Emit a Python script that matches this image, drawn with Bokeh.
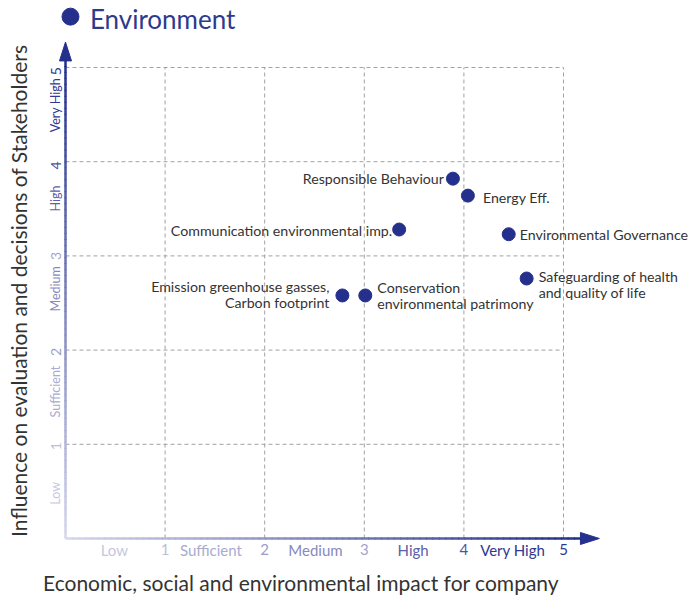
import numpy as np
from bokeh.plotting import figure
from bokeh.models import ColumnDataSource, Range1d
from bokeh.core.properties import value
from bokeh.embed import file_html
from bokeh.resources import INLINE

# ---- data -----------------------------------------------------------------
topics = [
    "Responsible Behaviour",
    "Energy Eff.",
    "Communication environmental imp.",
    "Environmental Governance",
    "Safeguarding of health\nand quality of life",
    "Emission greenhouse gasses,\nCarbon footprint",
    "Conservation\nenvironmental patrimony",
]
impact = [3.89, 4.04, 3.35, 4.45, 4.63, 2.78, 3.01]      # x: impact for company
influence = [3.82, 3.64, 3.28, 3.23, 2.76, 2.58, 2.58]   # y: influence on stakeholders

scale_numbers = ["1", "2", "3", "4", "5"]
scale_words = ["Low", "Sufficient", "Medium", "High", "Very High"]

title_text = "Environment"
x_title = "Economic, social and environmental impact for company"
y_title = "Influence on evaluation and decisions of Stakeholders"

# ---- label placement (screen pixels) ---------------------------------------
label_align = ["right", "left", "right", "left", "left", "right", "left"]
label_dx = [-9, 15, -7, 11, 12, -13, 12]
label_dy = [0, 2, 1, 0, 6, -1, 0]

FONT = value("Lato")
NAVY = "#24308c"
TEXT = "#333333"

# scale: data 0..5 spans the matrix; extra room for titles and arrows
X_LO, X_HI = -0.6526, 6.3153
Y_LO, Y_HI = -0.6582, 5.7113
X_TIP, Y_TIP = 5.36, 5.27

p = figure(width=694, height=600, output_backend="svg", toolbar_location=None,
           x_range=Range1d(X_LO, X_HI), y_range=Range1d(Y_LO, Y_HI),
           min_border=0, min_border_left=0, min_border_right=0,
           min_border_top=0, min_border_bottom=0)
p.axis.visible = False
p.grid.visible = False
p.outline_line_color = None
p.background_fill_color = "white"
p.border_fill_color = "white"

# dashed grid of the 5x5 matrix
levels = np.arange(1, 6)
p.segment(x0=levels, y0=0, x1=levels, y1=5, line_color="#a2a2a2",
          line_width=1, line_dash="4 3")
p.segment(x0=0, y0=levels, x1=5, y1=levels, line_color="#a2a2a2",
          line_width=1, line_dash="4 3")

# axes with a light-to-dark gradient
light = np.array([214, 214, 236])
dark = np.array([36, 48, 140])
n = 80
def grad(t):
    c = (light + (dark - light) * t).astype(int)
    return "#%02x%02x%02x" % tuple(c)

head_x = 0.19
head_y = 0.20
tx = np.linspace(0, X_TIP - head_x, n + 1)
p.segment(x0=tx[:-1], y0=0, x1=tx[1:] + 0.01, y1=0,
          line_color=[grad(t) for t in np.linspace(0, 1, n)], line_width=2.5)
ty = np.linspace(0, Y_TIP - head_y, n + 1)
p.segment(x0=0, y0=ty[:-1], x1=0, y1=ty[1:] + 0.01,
          line_color=[grad(t) for t in np.linspace(0, 1, n)], line_width=2.5)

hw_y = 6 / 94.2
hw_x = 6 / 99.6
p.patch([X_TIP - head_x, X_TIP, X_TIP - head_x], [-hw_y, 0, hw_y],
        fill_color=grad(1), line_color=grad(1))
p.patch([-hw_x, 0, hw_x], [Y_TIP - head_y, Y_TIP, Y_TIP - head_y],
        fill_color=grad(1), line_color=grad(1))

# tick labels along both axes
word_cols = ["#c6c7df", "#a9abd1", "#8789be", "#5c60a7", "#303892"]
num_cols = ["#bcbdda", "#9b9dca", "#a3a5cd", "#4e53a0", "#303892"]

x_word_pos = [0.49, 1.46, 2.51, 3.49, 4.49]
x_num_pos = [1, 2, 3, 4, 5]
xw = ColumnDataSource(dict(x=x_word_pos, y=[-0.12] * 5, t=scale_words, c=word_cols))
xn = ColumnDataSource(dict(x=x_num_pos, y=[-0.12] * 5, t=scale_numbers, c=num_cols))
for src in (xw, xn):
    p.text(x="x", y="y", text="t", text_color="c", source=src, text_font=FONT,
           text_font_size="15px", text_align="center", text_baseline="middle")

y_word_pos = [0.48, 1.56, 2.65, 3.61, 4.6]
y_num_pos = [0.98, 1.98, 3.0, 3.96, 4.96]
yw = ColumnDataSource(dict(x=[-0.1] * 5, y=y_word_pos, t=scale_words, c=word_cols))
yn = ColumnDataSource(dict(x=[-0.1] * 5, y=y_num_pos, t=scale_numbers, c=num_cols))
p.text(x="x", y="y", text="t", text_color="c", source=yw, text_font=FONT,
       text_font_size="12.5px", text_align="center", text_baseline="middle",
       angle=np.pi / 2)
p.text(x="x", y="y", text="t", text_color="c", source=yn, text_font=FONT,
       text_font_size="14px", text_align="center", text_baseline="middle",
       angle=np.pi / 2)

# axis titles
p.text(x=[2.365], y=[-0.47], text=[x_title], text_font=FONT, text_font_size="21px",
       text_color=TEXT, text_align="center", text_baseline="middle")
p.text(x=[-0.475], y=[2.63], text=[y_title], text_font=FONT, text_font_size="21px",
       text_color=TEXT, text_align="center", text_baseline="middle", angle=np.pi / 2)

# chart title with its marker
p.scatter(x=[0.05], y=[5.54], size=17, color=NAVY)
p.text(x=[0.245], y=[5.52], text=[title_text], text_font=FONT, text_font_size="26px",
       text_color="#2e3a8c", text_align="left", text_baseline="middle")

# the topics
src = ColumnDataSource(dict(x=impact, y=influence, t=topics, a=label_align,
                            dx=label_dx, dy=label_dy))
p.scatter(x="x", y="y", source=src, size=13, color=NAVY)
p.text(x="x", y="y", text="t", source=src, text_align="a", x_offset="dx",
       y_offset="dy", text_font=FONT, text_font_size="14.2px", text_color=TEXT,
       text_baseline="middle", text_line_height=0.95)

open("out.html", "w").write(file_html(p, INLINE))
